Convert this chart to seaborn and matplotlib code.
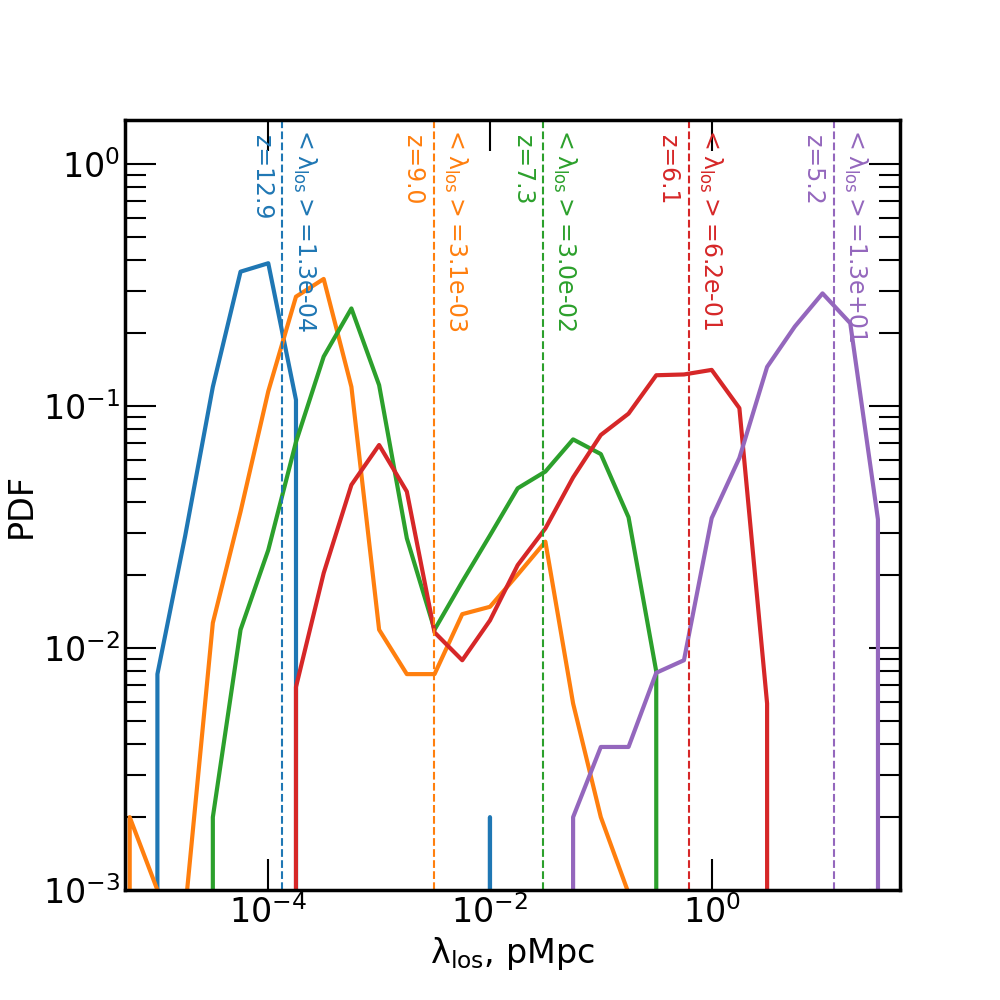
import numpy as np
import pandas as pd
import matplotlib
matplotlib.use("Agg")
import matplotlib.pyplot as plt
import seaborn as sns
from matplotlib.ticker import NullLocator

plt.rcParams["mathtext.default"] = "regular"

# bin centres (log10 of lambda_los in pMpc)
log_lam = [-5.5, -5.25, -5.0, -4.75, -4.5, -4.25, -4.0, -3.75, -3.5, -3.25,
           -3.0, -2.75, -2.5, -2.25, -2.0, -1.75, -1.5, -1.25, -1.0, -0.75,
           -0.5, -0.25, 0.0, 0.25, 0.5, 0.75, 1.0, 1.25, 1.5, 1.75]

pdf_z129 = [0, 0, 7.8e-3, 0.029, 0.12, 0.359, 0.389, 0.106, 0, 0,
            0, 0, 0, 0, 2.0e-3, 0, 0, 0, 0, 0,
            0, 0, 0, 0, 0, 0, 0, 0, 0, 0]
pdf_z90 = [0, 2.0e-3, 1.0e-3, 8.2e-4, 0.0127, 0.0366, 0.115, 0.283, 0.335, 0.12,
           0.0119, 7.8e-3, 7.8e-3, 0.0138, 0.0148, 0.0201, 0.0275, 5.9e-3, 2.0e-3, 9.7e-4,
           0, 0, 0, 0, 0, 0, 0, 0, 0, 0]
pdf_z73 = [0, 0, 0, 0, 2.0e-3, 0.0119, 0.0254, 0.071, 0.16, 0.253,
           0.122, 0.0284, 0.0119, 0.0188, 0.0292, 0.0457, 0.0536, 0.0728, 0.0633, 0.0347,
           8.0e-3, 0, 0, 0, 0, 0, 0, 0, 0, 0]
pdf_z61 = [0, 0, 0, 0, 0, 0, 0, 6.9e-3, 0.0204, 0.0472,
           0.069, 0.0443, 0.0116, 8.9e-3, 0.013, 0.022, 0.0312, 0.0507, 0.0759, 0.093,
           0.134, 0.135, 0.141, 0.098, 5.9e-3, 0, 0, 0, 0, 0]
pdf_z52 = [0, 0, 0, 0, 0, 0, 0, 0, 0, 0,
           0, 0, 0, 0, 0, 0, 0, 2.0e-3, 3.9e-3, 3.9e-3,
           7.9e-3, 8.9e-3, 0.0344, 0.061, 0.145, 0.213, 0.292, 0.22, 0.034, 0]

redshifts = [12.9, 9.0, 7.3, 6.1, 5.2]
mean_lam = [1.34e-4, 3.1e-3, 3.0e-2, 0.62, 12.6]
colors = ["#1f77b4", "#ff7f0e", "#2ca02c", "#d62728", "#9467bd"]
x_ticks = [1e-4, 1e-2, 1e0]

series = [pdf_z129, pdf_z90, pdf_z73, pdf_z61, pdf_z52]
lam = 10.0 ** np.array(log_lam)

fig, ax = plt.subplots(figsize=(10, 10), dpi=100)

for pdf, c in zip(series, colors):
    df = pd.DataFrame({"lam": lam, "pdf": pdf})
    sns.lineplot(data=df, x="lam", y="pdf", ax=ax, color=c, lw=3,
                 estimator=None, errorbar=None, legend=False)

ax.set_xscale("log")
ax.set_yscale("log")
ax.set_xlim(5.1e-6, 50)
ax.set_ylim(1e-3, 1.52)

for z, m, c in zip(redshifts, mean_lam, colors):
    ax.axvline(m, color=c, ls="--", lw=1.5)
    ax.annotate(f"z={z:.1f}", xy=(m, 0.98), xycoords=("data", "axes fraction"),
                xytext=(-6, 0), textcoords="offset points", rotation=270,
                ha="right", va="top", color=c, fontsize=17)
    ax.annotate(r"$<\lambda_{los}>$=" + f"{m:.1e}", xy=(m, 0.993),
                xycoords=("data", "axes fraction"),
                xytext=(6, 0), textcoords="offset points", rotation=270,
                ha="left", va="top", color=c, fontsize=17)

ax.set_xticks(x_ticks)
ax.xaxis.set_minor_locator(NullLocator())
ax.tick_params(which="both", direction="in", top=True, right=True,
               labelsize=24, width=1.5)
ax.tick_params(which="major", length=22)
ax.tick_params(which="minor", length=15)
for s in ax.spines.values():
    s.set_linewidth(2.5)

ax.set_xlabel(r"$\lambda_{los}$, pMpc", fontsize=24)
ax.set_ylabel("PDF", fontsize=24)

fig.savefig("out.png", dpi=100)
